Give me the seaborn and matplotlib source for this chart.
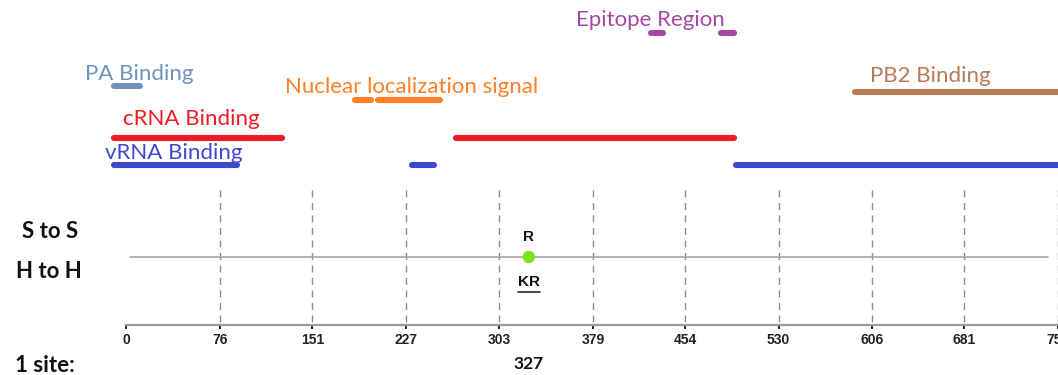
import matplotlib
matplotlib.use("Agg")
import matplotlib.pyplot as plt
import seaborn as sns
import pandas as pd

# PB1 protein length and ruler ticks
protein_length = 757
tick_positions = [0, 76, 151, 227, 303, 379, 454, 530, 606, 681, 757]
tick_labels = [str(t) for t in tick_positions]

# Functional regions: name, colour, segments (start, end)
region_names = ["PA Binding", "Nuclear localization signal", "Epitope Region",
                "PB2 Binding", "cRNA Binding", "vRNA Binding"]
region_colors = ["#7092be", "#ff7f27", "#a349a4", "#b97a57", "#ed1c24", "#3f48cc"]
region_segments = [
    [(-10, 11)],
    [(186, 199), (204, 255)],
    [(426, 436), (483, 494)],
    [(592, 757)],
    [(-10, 126), (268, 494)],
    [(-10, 90), (232, 250), (495, 757)],
]
# track row (y in layout units) and label anchor for each region
region_rows = [86, 100, 33, 92, 138, 165]
label_x = [10, 232, 426, 653, 53, 38]
label_y = [74, 87, 20, 76, 119, 153]

# Mutation sites
site_positions = [327]
site_s_to_s = ["R"]
site_h_to_h = ["KR"]

sns.set_theme(style="white")
plt.rcParams["font.family"] = ["Lato", "DejaVu Sans"]

fig = plt.figure(figsize=(10.58, 3.75), dpi=100)
ax = fig.add_axes([0, 0, 1, 1])
ax.set_xlim(-102.8, 755.9)
ax.set_ylim(375, 0)

# region bars and labels
for name, color, segs, row, lx, ly in zip(region_names, region_colors, region_segments,
                                          region_rows, label_x, label_y):
    for s, e in segs:
        ax.plot([s, e], [row, row], color=color, lw=4.4, solid_capstyle="round")
    ax.text(lx, ly, name, color=color, fontsize=16, ha="center", va="center")

# dashed guide lines at each ruler tick
for t in tick_positions[1:]:
    ax.plot([t, t], [190, 325], color="#8c8c8c", lw=1, ls=(0, (5, 4)))

# mutation track line
ax.plot([3, 749], [257, 257], color="#a6a6a6", lw=1.2)

site_df = pd.DataFrame({"pos": site_positions, "y": [257] * len(site_positions)})
sns.scatterplot(data=site_df, x="pos", y="y", color="#7fe21f", s=80, edgecolor="none",
                ax=ax, zorder=5, legend=False)
for p, a, b in zip(site_positions, site_s_to_s, site_h_to_h):
    ax.text(p, 237, a, fontsize=11, fontweight="bold", ha="center", va="center",
            family=["Liberation Sans", "DejaVu Sans"], color="#111111")
    ax.text(p, 282, b, fontsize=11, fontweight="bold", ha="center", va="center",
            family=["Liberation Sans", "DejaVu Sans"], color="#111111")
    ax.plot([p - 9, p + 9], [291.5, 291.5], color="#111111", lw=1.1)
    ax.text(p, 364, str(p), fontsize=12.5, fontweight="bold", ha="center", va="center",
            color="#111111")

# row labels
ax.text(-62, 232, "S to S", fontsize=16, fontweight="bold", ha="center", va="center", color="#111111")
ax.text(-63, 272, "H to H", fontsize=16, fontweight="bold", ha="center", va="center", color="#111111")
ax.text(-91, 365, "1 site:", fontsize=16, fontweight="bold", ha="left", va="center", color="#111111")

# ruler axis
for side in ["top", "left", "right"]:
    ax.spines[side].set_visible(False)
ax.spines["bottom"].set_position(("data", 325))
ax.spines["bottom"].set_bounds(0, protein_length)
ax.spines["bottom"].set_color("#9a9a9a")
ax.spines["bottom"].set_linewidth(1.6)
ax.set_yticks([])
ax.set_xticks(tick_positions)
ax.set_xticklabels(tick_labels, fontsize=10, fontweight="bold",
                   family=["Liberation Sans", "DejaVu Sans"], color="#222222")
ax.tick_params(axis="x", bottom=True, length=3, width=1.4, color="#222222", pad=3)
ax.set_xlabel("")
ax.set_ylabel("")

fig.savefig("out.png", dpi=100)
